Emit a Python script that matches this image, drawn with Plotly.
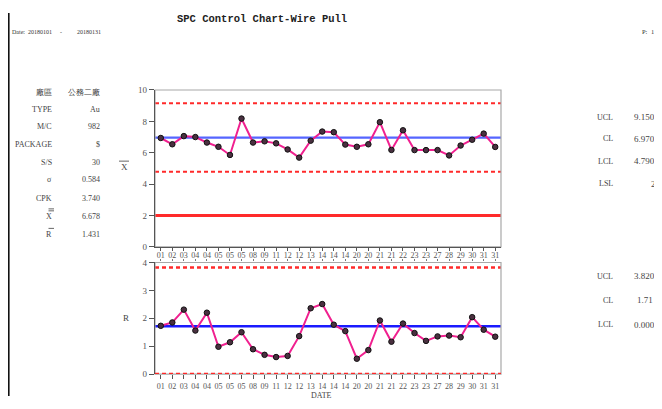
import plotly.graph_objects as go

# ---------------- data ----------------
dates = ["01", "02", "03", "04", "04", "05", "05", "05", "08", "09",
         "11", "12", "12", "13", "14", "14", "14", "20", "20", "21",
         "21", "22", "23", "23", "27", "28", "29", "30", "31", "31"]
xbar = [6.94, 6.54, 7.06, 7.00, 6.65, 6.38, 5.86, 8.18, 6.65, 6.73,
        6.60, 6.21, 5.69, 6.77, 7.35, 7.31, 6.52, 6.38, 6.54, 7.95,
        6.18, 7.43, 6.17, 6.17, 6.17, 5.83, 6.46, 6.83, 7.22, 6.37]
rvals = [1.73, 1.85, 2.31, 1.56, 2.20, 0.98, 1.14, 1.50, 0.89, 0.69,
         0.61, 0.65, 1.36, 2.36, 2.51, 1.77, 1.54, 0.55, 0.86, 1.92,
         1.16, 1.81, 1.47, 1.19, 1.35, 1.38, 1.32, 2.04, 1.59, 1.34]

xbar_limit_names = ["UCL", "CL", "LCL", "LSL"]
xbar_limit_vals = [9.15, 6.97, 4.79, 2.0]
xbar_limit_text = ["9.150", "6.970", "4.790", "2"]
r_limit_names = ["UCL", "CL", "LCL"]
r_limit_vals = [3.82, 1.71, 0.0]
r_limit_text = ["3.820", "1.71", "0.000"]

info_labels = ["廠區", "TYPE", "M/C", "PACKAGE", "S/S", "σ", "CPK", "X", "R"]
info_bars = [0, 0, 0, 0, 0, 0, 0, 2, 1]          # number of overbars on the label
info_values = ["公務二廠", "Au", "982", "$", "30", "0.584", "3.740", "6.678", "1.431"]

title = "SPC Control Chart-Wire Pull"
date_from, date_to = "20180101", "20180131"

# ---------------- layout helpers ----------------
# page body has an 8px margin on every side: figure pixel = reference pixel - 8,
# and the figure is sized so the page does not overflow the window.
OFF = 8
W, H = 662 - 2 * OFF, 409 - 2 * OFF
def px(x):
    return (x - OFF) / W
def py(y):
    return 1 - (y - OFF) / H

idx = list(range(len(dates)))
SERIF = "Liberation Serif"
MONO = "Liberation Mono"
TXT = "#444"

fig = go.Figure()

LINE_C = "#f0208f"
MK = dict(symbol="circle", size=5.5, color="#4a3040", line=dict(color="#111", width=1))

fig.add_trace(go.Scatter(x=idx, y=xbar, mode="lines+markers",
                         line=dict(color=LINE_C, width=2), marker=MK,
                         xaxis="x", yaxis="y", showlegend=False, hoverinfo="skip"))
fig.add_trace(go.Scatter(x=idx, y=rvals, mode="lines+markers",
                         line=dict(color=LINE_C, width=2), marker=MK,
                         xaxis="x2", yaxis="y2", showlegend=False, hoverinfo="skip"))
# invisible trace so that the top date axis of the R chart is drawn
fig.add_trace(go.Scatter(x=idx, y=rvals, mode="markers", marker=dict(opacity=0),
                         xaxis="x3", yaxis="y2", showlegend=False, hoverinfo="skip"))

shapes = []
xbar_styles = {
    "UCL": dict(color="#ff2a2a", width=2, dash="4px,3px"),
    "CL": dict(color="#5565ff", width=2.2, dash="solid"),
    "LCL": dict(color="#ff2a2a", width=2, dash="4px,3px"),
    "LSL": dict(color="#ff2a2a", width=3, dash="solid"),
}
for n, v in zip(xbar_limit_names, xbar_limit_vals):
    shapes.append(dict(type="line", xref="x domain", yref="y", x0=0, x1=1, y0=v, y1=v,
                       line=xbar_styles[n], layer="below"))
r_styles = {
    "UCL": dict(color="#ff2a2a", width=2.5, dash="4px,3px"),
    "CL": dict(color="#1a1aff", width=2.5, dash="solid"),
    "LCL": dict(color="#ff2a2a", width=2.5, dash="4px,3px"),
}
for n, v in zip(r_limit_names, r_limit_vals):
    shapes.append(dict(type="line", xref="x2 domain", yref="y2", x0=0, x1=1, y0=v, y1=v,
                       line=r_styles[n], layer="above" if n == "LCL" else "below"))

for xr, yr in [("x domain", "y domain"), ("x2 domain", "y2 domain")]:
    shapes.append(dict(type="rect", xref=xr, yref=yr, x0=0, x1=1, y0=0, y1=1,
                       line=dict(color="#a8a8a8", width=1.2), layer="below"))

# page frame (left black rule)
shapes.append(dict(type="line", xref="paper", yref="paper", x0=px(8.8), x1=px(8.8), y0=1, y1=0,
                   line=dict(color="#111", width=1.6)))

def overbar(x0, x1, y):
    shapes.append(dict(type="line", xref="paper", yref="paper", x0=px(x0), x1=px(x1),
                       y0=py(y), y1=py(y), line=dict(color="#555", width=0.9)))

annotations = []
def text(t, x, y, size=8, xanchor="center", family=SERIF, color=TXT):
    annotations.append(dict(text=t, x=px(x), y=py(y), xref="paper", yref="paper",
                            showarrow=False, font=dict(family=family, size=size, color=color),
                            xanchor=xanchor, yanchor="middle"))

text("<b>" + title + "</b>", 262, 14, size=10.5, family=MONO, color="#222")
text("Date:", 10, 27, size=6, xanchor="left", color="#333")
text(date_from, 26, 27, size=6, xanchor="left", color="#333")
text("-", 58, 27, size=6, xanchor="left", color="#333")
text(date_to, 75, 27, size=6, xanchor="left", color="#333")
text("P:", 640, 27, size=6.5, xanchor="left", color="#333")
text("1", 649, 27, size=6.5, xanchor="left", color="#333")

# info table (left)
row_y = [90, 107, 124, 143, 161, 179, 198, 217, 235]
for lab, nb, val, yy in zip(info_labels, info_bars, info_values, row_y):
    text(lab, 54, yy, xanchor="right")
    text(val, 102, yy, xanchor="right")
    for k in range(nb):
        overbar(48.5, 54, yy - 6 - 2 * k)

# control-limit tables (right)
xr_rows = [115, 137, 160, 183]
for n, t, yy in zip(xbar_limit_names, xbar_limit_text, xr_rows):
    text(n, 615, yy, xanchor="right")
    text(t, 649 if t == "2" else 632, yy, size=9, xanchor="left")
r_rows = [278, 303, 328]
for n, t, yy in zip(r_limit_names, r_limit_text, r_rows):
    text(n, 615, yy, xanchor="right")
    text(t, 635 if t == "1.71" else 632, yy, size=9, xanchor="left")

# axis titles
text("X", 124, 166, size=9)
overbar(119, 129, 160)
text("R", 126, 321, size=9)
text("DATE", 321, 400, size=8)

xdom = [px(155), px(501)]
xrange = [-0.5, len(dates) - 0.5]
tickfont = dict(family=SERIF, size=8, color="#555")

fig.update_layout(
    width=W, height=H,
    margin=dict(l=0, r=0, t=0, b=0),
    paper_bgcolor="white", plot_bgcolor="white",
    showlegend=False,
    shapes=shapes, annotations=annotations,
    xaxis=dict(domain=xdom, range=xrange, anchor="y", tickmode="array", tickvals=idx,
               showticklabels=False, ticks="outside", ticklen=3, tickcolor="#555",
               showgrid=False, zeroline=False, showline=True, linecolor="#555", linewidth=1.2),
    yaxis=dict(domain=[py(248), py(87)], range=[0, 10], anchor="x", tickmode="array",
               tickvals=[0, 2, 4, 6, 8, 10], ticks="outside", ticklen=5, tickcolor="#555",
               tickfont=dict(family=SERIF, size=9, color="#555"),
               showgrid=False, zeroline=False, showline=True, linecolor="#555", linewidth=1.2),
    xaxis2=dict(domain=xdom, range=xrange, anchor="y2", tickmode="array", tickvals=idx,
                ticktext=dates, ticks="outside", ticklen=4, tickcolor="#555", tickfont=tickfont,
                tickangle=0, showgrid=False, zeroline=False, showline=False),
    xaxis3=dict(domain=xdom, range=xrange, anchor="y2", overlaying="x2", side="top",
                tickmode="array", tickvals=idx, ticktext=dates, ticks="outside", ticklen=2,
                ticklabelstandoff=-2,
                tickcolor="#777", tickfont=tickfont, tickangle=0,
                showgrid=False, zeroline=False, showline=False),
    yaxis2=dict(domain=[py(378.5), py(264)], range=[0, 4], anchor="x2", tickmode="array",
                tickvals=[0, 1, 2, 3, 4], ticks="outside", ticklen=5, tickcolor="#555",
                tickfont=dict(family=SERIF, size=9, color="#555"),
                showgrid=False, zeroline=False, showline=True, linecolor="#555", linewidth=1.2),
)

fig.write_html("out.html")
